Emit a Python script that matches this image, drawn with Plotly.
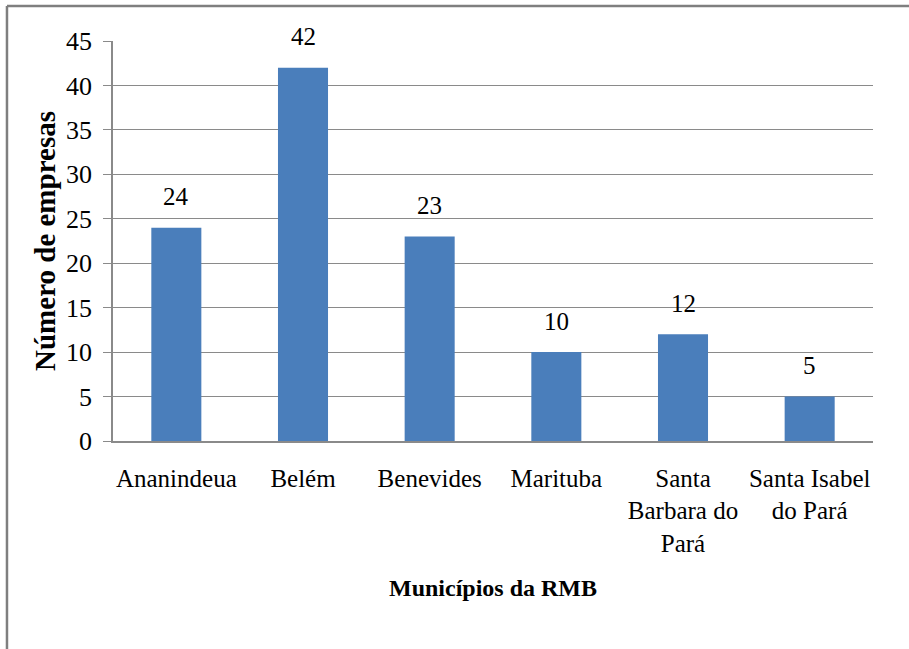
import plotly.graph_objects as go

categories = ["Ananindeua", "Belém", "Benevides", "Marituba",
              "Santa<br>Barbara do<br>Pará", "Santa Isabel<br>do Pará"]
values = [24, 42, 23, 10, 12, 5]
y_ticks = [0, 5, 10, 15, 20, 25, 30, 35, 40, 45]

FONT = "Liberation Serif"
GRID = "#8a8a8a"

fig = go.Figure()
fig.add_trace(go.Bar(x=categories, y=values, marker=dict(color="#4a7ebb", line=dict(width=0)),
                     hoverinfo="x+y"))

for c, v in zip(categories, values):
    fig.add_annotation(x=c, y=v, text=str(v), showarrow=False, yshift=31,
                       yanchor="middle", font=dict(family=FONT, size=25, color="black"))

fig.update_layout(
    width=909, height=649,
    margin=dict(l=113, r=36, t=41, b=208),
    paper_bgcolor="white", plot_bgcolor="white",
    bargap=0.605,
    showlegend=False,
    font=dict(family=FONT, color="black"),
    xaxis=dict(
        title=dict(text="<b>Municípios da RMB</b>", font=dict(family=FONT, size=24), standoff=23),
        tickfont=dict(family=FONT, size=25),
        showline=True, linecolor=GRID, linewidth=1.5,
        showgrid=False, ticks="", ticklabelstandoff=14,
    ),
    yaxis=dict(
        title=dict(text="<b>Número de empresas</b>", font=dict(family=FONT, size=29), standoff=2),
        tickfont=dict(family=FONT, size=26),
        range=[0, 45], tickvals=y_ticks,
        showline=True, linecolor=GRID, linewidth=1.5,
        showgrid=True, gridcolor=GRID, gridwidth=1.2,
        ticks="outside", ticklen=8, tickcolor=GRID, tickwidth=1.2,
        ticklabelstandoff=6, zeroline=False,
    ),
    shapes=[
        dict(type="line", xref="paper", yref="paper", x0=-0.1395, x1=0.1395 + 1.2, y0=1.0875, y1=1.0875,
             line=dict(color="#7f7f7f", width=2.5)),
        dict(type="line", xref="paper", yref="paper", x0=-0.1395, x1=-0.1395, y0=1.0875, y1=-0.6,
             line=dict(color="#7f7f7f", width=2.5)),
    ],
)

fig.write_html("out.html", config={"displayModeBar": False},
               post_script="document.body.style.margin='0';")
